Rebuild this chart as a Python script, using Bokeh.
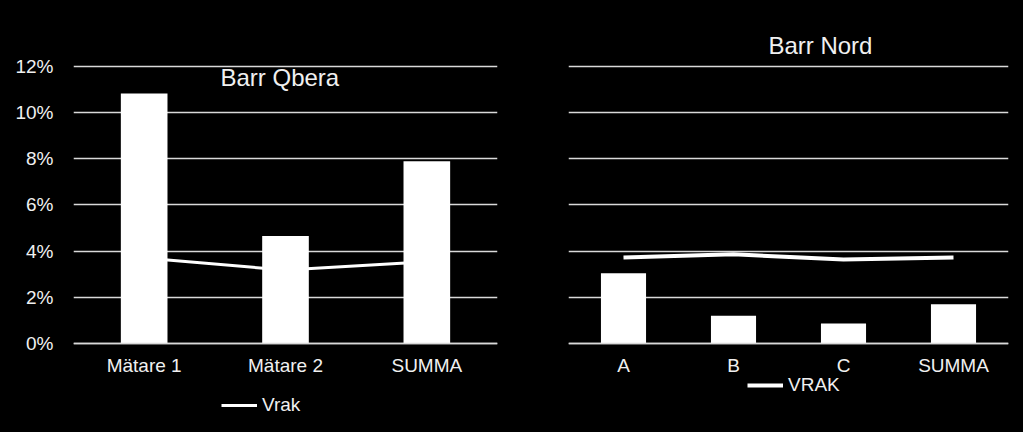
from bokeh.plotting import figure
from bokeh.layouts import row
from bokeh.models import FactorRange, Range1d, FixedTicker, Label, Legend, LegendItem, ColumnDataSource
from bokeh.embed import file_html
from bokeh.resources import INLINE

# ---- data ----
left_title = "Barr Qbera"
left_cats = ["Mätare 1", "Mätare 2", "SUMMA"]
left_bars = [10.83, 4.65, 7.89]
left_vrak = [3.70, 3.18, 3.54]
left_legend = "Vrak"

right_title = "Barr Nord"
right_cats = ["A", "B", "C", "SUMMA"]
right_bars = [3.04, 1.20, 0.87, 1.70]
right_vrak = [3.72, 3.86, 3.64, 3.72]
right_legend = "VRAK"

y_ticks = [0, 2, 4, 6, 8, 10, 12]
y_tick_labels = ["0%", "2%", "4%", "6%", "8%", "10%", "12%"]

FONT = "Liberation Sans"
TXT = "#f0f0f0"
GRID = "#d9d9d9"


def make_panel(cats, bars, vrak, bar_w, line_w, width, bl, br, show_y):
    p = figure(x_range=FactorRange(*cats), y_range=Range1d(-3.553, 13.99),
               width=width, height=430, output_backend="svg", toolbar_location=None,
               min_border_left=bl, min_border_right=br, min_border_top=20, min_border_bottom=5)
    p.background_fill_color = "black"
    p.border_fill_color = "black"
    p.outline_line_color = None
    p.x_range.range_padding = 0
    src = ColumnDataSource(dict(x=cats, top=bars, v=vrak))
    ln = p.line("x", "v", source=src, line_color="white", line_width=line_w)
    p.vbar(x="x", top="top", width=bar_w, source=src, fill_color="white", line_color=None)
    p.xgrid.visible = False
    p.ygrid.ticker = FixedTicker(ticks=y_ticks)
    p.ygrid.grid_line_color = GRID
    p.ygrid.grid_line_width = 1.5
    p.yaxis.ticker = FixedTicker(ticks=y_ticks)
    p.yaxis.major_label_overrides = {t: l for t, l in zip(y_ticks, y_tick_labels)}
    p.yaxis.axis_line_color = None
    p.yaxis.major_tick_line_color = None
    p.yaxis.minor_tick_line_color = None
    p.yaxis.major_tick_out = 0
    p.yaxis.major_label_standoff = 20
    p.yaxis.major_label_text_font = FONT
    p.yaxis.major_label_text_font_size = "19px"
    p.yaxis.major_label_text_color = TXT
    if not show_y:
        p.yaxis.visible = False
    p.xaxis.fixed_location = 0
    p.xaxis.axis_line_color = GRID
    p.xaxis.axis_line_width = 1.5
    p.xaxis.major_tick_line_color = None
    p.xaxis.major_tick_out = 0
    p.xaxis.major_tick_in = 0
    p.xaxis.major_label_standoff = 12
    p.xaxis.major_label_text_font = FONT
    p.xaxis.major_label_text_font_size = "19px"
    p.xaxis.major_label_text_color = TXT
    return p, ln


p1, ln1 = make_panel(left_cats, left_bars, left_vrak, 0.33, 3, 520, 73, 23, True)
p2, ln2 = make_panel(right_cats, right_bars, right_vrak, 0.41, 4, 495, 48, 7, False)

p1.add_layout(Label(x=1.04, y=11.52, text=left_title, text_font=FONT, text_font_size="24px",
                    text_color=TXT, text_baseline="middle", text_align="left"))
p2.add_layout(Label(x=2.29, y=12.91, text=right_title, text_font=FONT, text_font_size="24px",
                    text_color=TXT, text_baseline="middle", text_align="center"))


def add_legend(p, ln, label, loc):
    lg = Legend(items=[LegendItem(label=label, renderers=[ln])], location=loc,
                glyph_width=36, label_standoff=5, padding=0, margin=0, spacing=0,
                label_text_font=FONT, label_text_font_size="19px", label_text_color=TXT,
                background_fill_alpha=0, border_line_color=None)
    p.add_layout(lg, "center")


add_legend(p1, ln1, left_legend, (148, 9))
add_legend(p2, ln2, right_legend, (179, 29))

layout = row(p1, p2, spacing=0)
layout.styles = {"background-color": "black"}
html = file_html(layout, INLINE)
html = html.replace("<body>", '<body style="background-color:black;">')
open("out.html", "w").write(html)
